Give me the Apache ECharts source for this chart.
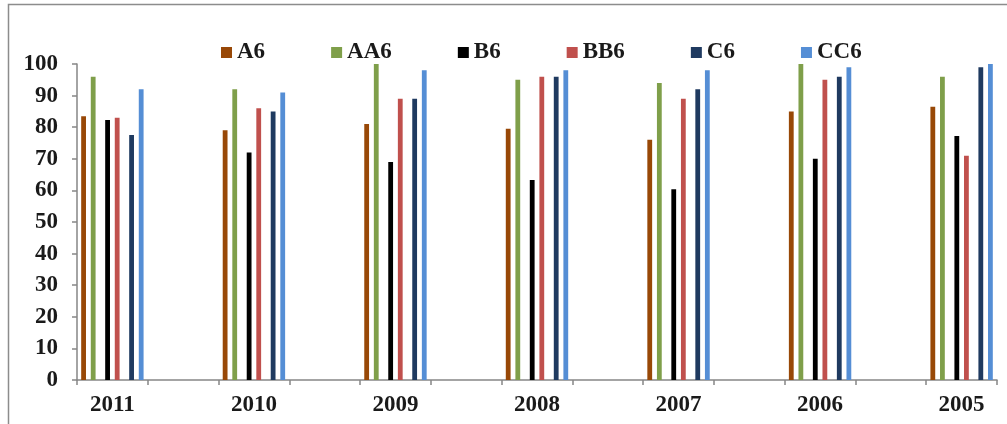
<!DOCTYPE html>
<html>
<head>
<meta charset="utf-8">
<script src="https://cdn.jsdelivr.net/npm/echarts@6/dist/echarts.min.js"></script>
<style>
  html, body { margin: 0; padding: 0; background: #fff; overflow: hidden; }
  #chart { width: 1007px; height: 424px; }
</style>
</head>
<body>
<div id="chart"></div>
<script>
// years, each one followed by an empty gap slot on the axis
const years = ['2011', '2010', '2009', '2008', '2007', '2006', '2005'];

const a6  = [83.5, 79, 81, 79.5, 76, 85, 86.5];
const aa6 = [96, 92, 100, 95, 94, 100, 96];
const b6  = [82.3, 72, 69, 63.3, 60.4, 70, 77.2];
const bb6 = [83, 86, 89, 96, 89, 95, 71];
const c6  = [77.5, 85, 89, 96, 92, 96, 99];
const cc6 = [92, 91, 98, 98, 98, 99, 100];

const names  = ['A6', 'AA6', 'B6', 'BB6', 'C6', 'CC6'];
const colors = ['#984807', '#7f9f4a', '#000000', '#c0504d', '#1f3a60', '#558ed5'];
const values = [a6, aa6, b6, bb6, c6, cc6];

// x axis: year, blank, year, blank ...
const categories = [];
years.forEach((y, i) => {
  categories.push(y);
  if (i < years.length - 1) categories.push('');
});

function pad(arr) {
  const out = [];
  arr.forEach((v, i) => {
    out.push(v);
    if (i < arr.length - 1) out.push(null);
  });
  return out;
}

// slot order inside a group: A6 _ AA6 _ _ B6 _ BB6 _ _ C6 _ CC6
const slots = [0, -1, 1, -1, -1, 2, -1, 3, -1, -1, 4, -1, 5];
const series = slots.map((k, j) => {
  if (k < 0) {
    return { name: 'gap' + j, type: 'bar', barWidth: 4.8, barGap: '0%', data: pad(years.map(() => null)) };
  }
  return {
    name: names[k],
    type: 'bar',
    barWidth: 4.8,
    barGap: '0%',
    itemStyle: { color: colors[k] },
    data: pad(values[k])
  };
});

const font = "'Liberation Serif', serif";
const chart = echarts.init(document.getElementById('chart'));
chart.setOption({
  animation: false,
  backgroundColor: '#fff',
  graphic: [{
    type: 'rect',
    shape: { x: 8.5, y: 4.5, width: 1100, height: 500 },
    style: { fill: 'none', stroke: '#8c8c8c', lineWidth: 1.5 },
    silent: true
  }],
  legend: {
    data: names,
    left: 216,
    top: 36,
    icon: 'rect',
    itemWidth: 11,
    itemHeight: 11,
    itemGap: 66,
    textStyle: { fontFamily: font, fontWeight: 'bold', fontSize: 23, color: '#1a1a1a' }
  },
  grid: { left: 77, right: 10, top: 64, bottom: 44 },
  xAxis: {
    type: 'category',
    data: categories,
    axisLine: { lineStyle: { color: '#868686', width: 1.5 } },
    axisTick: { show: true, length: 5, lineStyle: { color: '#868686', width: 1.5 } },
    axisLabel: { interval: 0, margin: 14, fontFamily: font, fontWeight: 'bold', fontSize: 23, color: '#1a1a1a' }
  },
  yAxis: {
    type: 'value',
    min: 0,
    max: 100,
    interval: 10,
    splitLine: { show: false },
    axisLine: { show: true, lineStyle: { color: '#868686', width: 1.5 } },
    axisTick: { show: true, length: 5, lineStyle: { color: '#868686', width: 1.5 } },
    axisLabel: { margin: 19, fontFamily: font, fontWeight: 'bold', fontSize: 23, color: '#1a1a1a' }
  },
  series: series
});
</script>
</body>
</html>
